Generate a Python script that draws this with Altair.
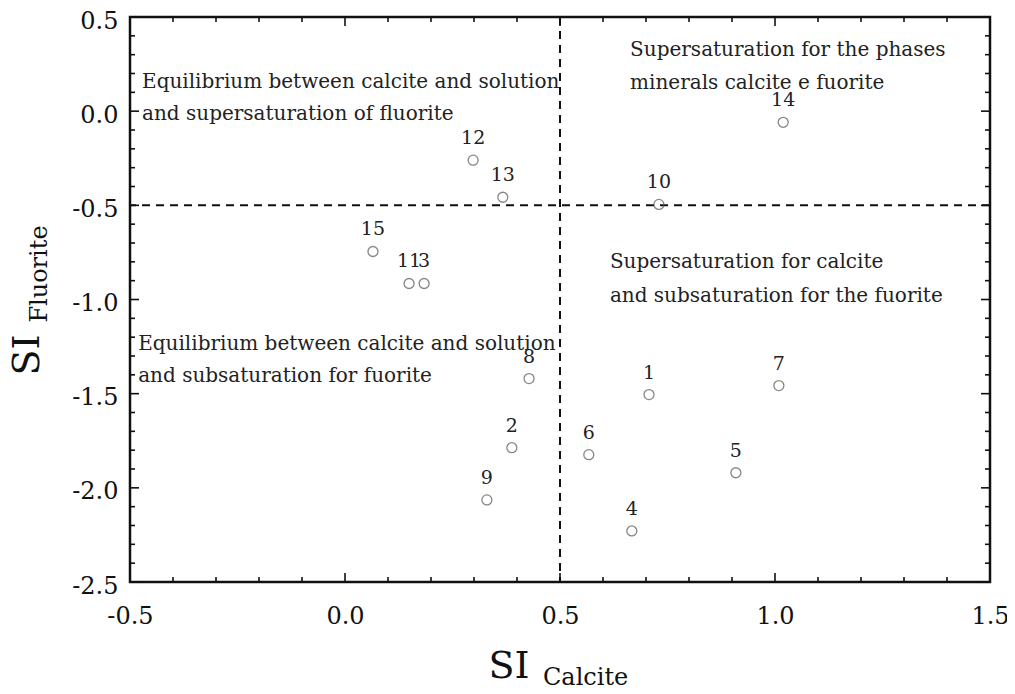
import altair as alt
import pandas as pd

# ---- data ----
sample_ids = ["1", "2", "3", "4", "5", "6", "7", "8", "9", "10", "11", "12", "13", "14", "15"]
si_calcite = [0.707, 0.388, 0.184, 0.667, 0.909, 0.567, 1.009, 0.428, 0.330, 0.730, 0.149, 0.298, 0.367, 1.019, 0.065]
si_fluorite = [-1.505, -1.787, -0.915, -2.229, -1.920, -1.824, -1.457, -1.420, -2.064, -0.495, -0.915, -0.260, -0.457, -0.059, -0.745]

x_ticks = [-0.5, 0.0, 0.5, 1.0, 1.5]
y_ticks = [-2.5, -2.0, -1.5, -1.0, -0.5, 0.0, 0.5]
x_minor = [round(-0.5 + 0.1 * i, 2) for i in range(21)]
y_minor = [round(-2.5 + 0.1 * i, 2) for i in range(31)]

ann_text = [
    "Equilibrium between calcite and solution",
    "and supersaturation of fluorite",
    "Supersaturation for the phases",
    "minerals calcite e fuorite",
    "Supersaturation for calcite",
    "and subsaturation for the fuorite",
    "Equilibrium between calcite and solution",
    "and subsaturation for fuorite",
]
ann_x = [-0.472, -0.472, 0.663, 0.663, 0.616, 0.616, -0.481, -0.481]
ann_y = [0.154, -0.016, 0.324, 0.148, -0.803, -0.979, -1.234, -1.404]

threshold_x = [0.5]
threshold_y = [-0.5]

FONT = "DejaVu Serif"
W, H = 860, 565

pts = pd.DataFrame({"id": sample_ids, "x": si_calcite, "y": si_fluorite})
ann = pd.DataFrame({"t": ann_text, "x": ann_x, "y": ann_y})
xm = pd.DataFrame({"v": x_minor, "major": [abs(v * 2 - round(v * 2)) < 1e-6 for v in x_minor]})
ym = pd.DataFrame({"v": y_minor, "major": [abs(v * 2 - round(v * 2)) < 1e-6 for v in y_minor]})

label_expr = "replace(format(datum.value, '.1f'), '\u2212', '-')"

xscale = alt.Scale(domain=[-0.5, 1.5], nice=False, zero=False)
yscale = alt.Scale(domain=[-2.5, 0.5], nice=False, zero=False)

xaxis = alt.Axis(values=x_ticks, labelExpr=label_expr, ticks=False, domain=False, grid=False,
                 labelFont=FONT, labelFontSize=24, labelColor="#111", labelPadding=22, title=None,
                 labelFlush=False)
yaxis = alt.Axis(values=y_ticks, labelExpr=label_expr, ticks=False, domain=False, grid=False,
                 labelFont=FONT, labelFontSize=24, labelColor="#111", labelPadding=12, title=None,
                 labelFlush=False, labelOffset=4)

X = lambda f: alt.X(f, scale=xscale, axis=xaxis)
Y = lambda f: alt.Y(f, scale=yscale, axis=yaxis)

base = alt.Chart(pts)

points = base.mark_point(shape="circle", filled=False, size=100, stroke="#555", strokeWidth=1.3).encode(
    x=X("x:Q"), y=Y("y:Q"),
)

labels = base.mark_text(font=FONT, fontSize=19, color="#222", dy=-22, baseline="middle").encode(
    x=X("x:Q"), y=Y("y:Q"), text="id:N"
)

vline = alt.Chart(pd.DataFrame({"x": threshold_x})).mark_rule(
    color="#111", strokeWidth=2, strokeDash=[8, 6]
).encode(x=X("x:Q"))

hline = alt.Chart(pd.DataFrame({"y": threshold_y})).mark_rule(
    color="#111", strokeWidth=2, strokeDash=[8, 6]
).encode(y=Y("y:Q"))

annotations = alt.Chart(ann).mark_text(
    font=FONT, fontSize=20, color="#222", align="left", baseline="middle"
).encode(x=X("x:Q"), y=Y("y:Q"), text="t:N")

# inward ticks on all four sides
def xticks(major, ypos_minor, ypos_major):
    d = xm[xm.major == major]
    size = 9 if major else 5
    ypos = ypos_major if major else ypos_minor
    return alt.Chart(d).mark_tick(color="#111", thickness=1.6, size=size, opacity=1).encode(
        x=X("v:Q"), y=alt.value(ypos)
    )

def yticks(major, xpos_minor, xpos_major):
    d = ym[ym.major == major]
    size = 9 if major else 5
    xpos = xpos_major if major else xpos_minor
    return alt.Chart(d).mark_tick(color="#111", thickness=1.6, size=size, opacity=1).encode(
        y=Y("v:Q"), x=alt.value(xpos)
    )

tick_layers = [
    xticks(False, H - 2.5, H - 4.5), xticks(True, H - 2.5, H - 4.5),
    xticks(False, 2.5, 4.5), xticks(True, 2.5, 4.5),
    yticks(False, 2.5, 4.5), yticks(True, 2.5, 4.5),
    yticks(False, W - 2.5, W - 4.5), yticks(True, W - 2.5, W - 4.5),
]

# axis titles with subscripts
title_df = pd.DataFrame({"a": [0]})
x_si = alt.Chart(title_df).mark_text(font=FONT, fontSize=38, color="#111", align="center", baseline="middle").encode(
    x=alt.value(379), y=alt.value(650), text=alt.value("SI"))
x_sub = alt.Chart(title_df).mark_text(font=FONT, fontSize=24, color="#111", align="left", baseline="middle").encode(
    x=alt.value(413), y=alt.value(661), text=alt.value("Calcite"))
y_si = alt.Chart(title_df).mark_text(font=FONT, fontSize=38, color="#111", align="center", baseline="middle", angle=270).encode(
    x=alt.value(-102), y=alt.value(338), text=alt.value("SI"))
y_sub = alt.Chart(title_df).mark_text(font=FONT, fontSize=24, color="#111", align="center", baseline="middle", angle=270).encode(
    x=alt.value(-90), y=alt.value(257), text=alt.value("Fluorite"))

chart = alt.layer(
    vline, hline, *tick_layers, annotations, points, labels, x_si, x_sub, y_si, y_sub
).properties(
    width=W, height=H,
    autosize=alt.AutoSizeParams(type="none"),
    padding={"left": 122, "top": 9, "right": 17, "bottom": 110},
    background="white",
).configure_view(stroke="#111", strokeWidth=2.5)

chart.save("out.html", embed_options={"renderer": "svg", "actions": False})
